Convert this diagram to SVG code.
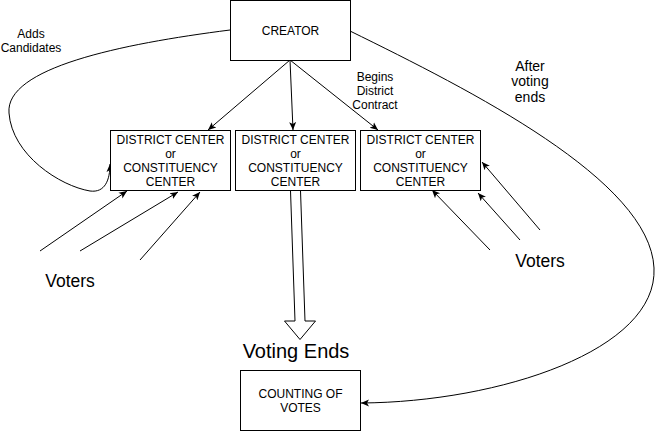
<svg xmlns="http://www.w3.org/2000/svg" width="655" height="431" viewBox="0 0 655 431">
<style>
.box{fill:#fff;stroke:#000;stroke-width:1}
.t{font-family:"Liberation Sans",Arial,sans-serif;font-size:12px;fill:#000;text-anchor:middle}
.big{font-family:"Liberation Sans",Arial,sans-serif;fill:#000;text-anchor:middle}
.c{fill:none;stroke:#000;stroke-width:1}
</style>
<defs>
<marker id="ah" markerUnits="userSpaceOnUse" markerWidth="9" markerHeight="9" viewBox="0 0 9 8" refX="8" refY="4" orient="auto">
<path d="M8,4 L0,0.5 L2,4 L0,7.5 z" fill="#000"/>
</marker>
</defs>
<rect width="655" height="431" fill="#fff"/>
<g id="connectors">
<path class="c" d="M290,60 L208,130" marker-end="url(#ah)"/>
<path class="c" d="M290,60 L293,130" marker-end="url(#ah)"/>
<path class="c" d="M290,60 L378,130" marker-end="url(#ah)"/>
<path class="c" d="M230,30 C120,44 5,68 9,113 C12,155 60,186 90,191 C105,193 110,180 110,164" marker-end="url(#ah)"/>
<path class="c" d="M350,31 C470,90 650,180 654,268 C658,350 500,402 361,403" marker-end="url(#ah)"/>
<path class="c" d="M40,251 L127,191" marker-end="url(#ah)"/>
<path class="c" d="M80,251 L178,192" marker-end="url(#ah)"/>
<path class="c" d="M140,260 L200,192" marker-end="url(#ah)"/>
<path class="c" d="M490,250 L432,190" marker-end="url(#ah)"/>
<path class="c" d="M520,240 L478,193" marker-end="url(#ah)"/>
<path class="c" d="M540,230 L482,162" marker-end="url(#ah)"/>
<polygon points="290.5,190.5 300.5,190.5 305,321 315.5,321 300,339.5 284.5,321 295,321" fill="#fff" stroke="#000" stroke-width="1"/>
</g>
<g id="creator">
<rect class="box" x="230.5" y="0.5" width="120" height="60"/>
<text class="t" x="290.5" y="35">CREATOR</text>
</g>
<g id="district1">
<rect class="box" x="110.5" y="130.5" width="120" height="60"/>
<text class="t" x="170.5" y="144">DISTRICT CENTER</text>
<text class="t" x="170.5" y="158">or</text>
<text class="t" x="170.5" y="172">CONSTITUENCY</text>
<text class="t" x="170.5" y="186">CENTER</text>
</g>
<g id="district2">
<rect class="box" x="235.5" y="130.5" width="120" height="60"/>
<text class="t" x="295.5" y="144">DISTRICT CENTER</text>
<text class="t" x="295.5" y="158">or</text>
<text class="t" x="295.5" y="172">CONSTITUENCY</text>
<text class="t" x="295.5" y="186">CENTER</text>
</g>
<g id="district3">
<rect class="box" x="360.5" y="130.5" width="120" height="60"/>
<text class="t" x="420.5" y="144">DISTRICT CENTER</text>
<text class="t" x="420.5" y="158">or</text>
<text class="t" x="420.5" y="172">CONSTITUENCY</text>
<text class="t" x="420.5" y="186">CENTER</text>
</g>
<g id="counting">
<rect class="box" x="240.5" y="370.5" width="120" height="60"/>
<text class="t" x="300.5" y="398">COUNTING OF</text>
<text class="t" x="300.5" y="412">VOTES</text>
</g>
<g id="labels">
<text class="t" x="31" y="38.3">Adds</text>
<text class="t" x="31" y="52">Candidates</text>
<text class="t" x="375" y="81">Begins</text>
<text class="t" x="375" y="94.7">District</text>
<text class="t" x="375" y="108.5">Contract</text>
<text class="big" x="530" y="70.7" font-size="14">After</text>
<text class="big" x="530" y="86.2" font-size="14">voting</text>
<text class="big" x="530" y="101.7" font-size="14">ends</text>
<text class="big" x="70" y="287" font-size="17.5">Voters</text>
<text class="big" x="540" y="267" font-size="17.5">Voters</text>
<text class="big" x="296" y="358.3" font-size="20">Voting Ends</text>
</g>
</svg>
